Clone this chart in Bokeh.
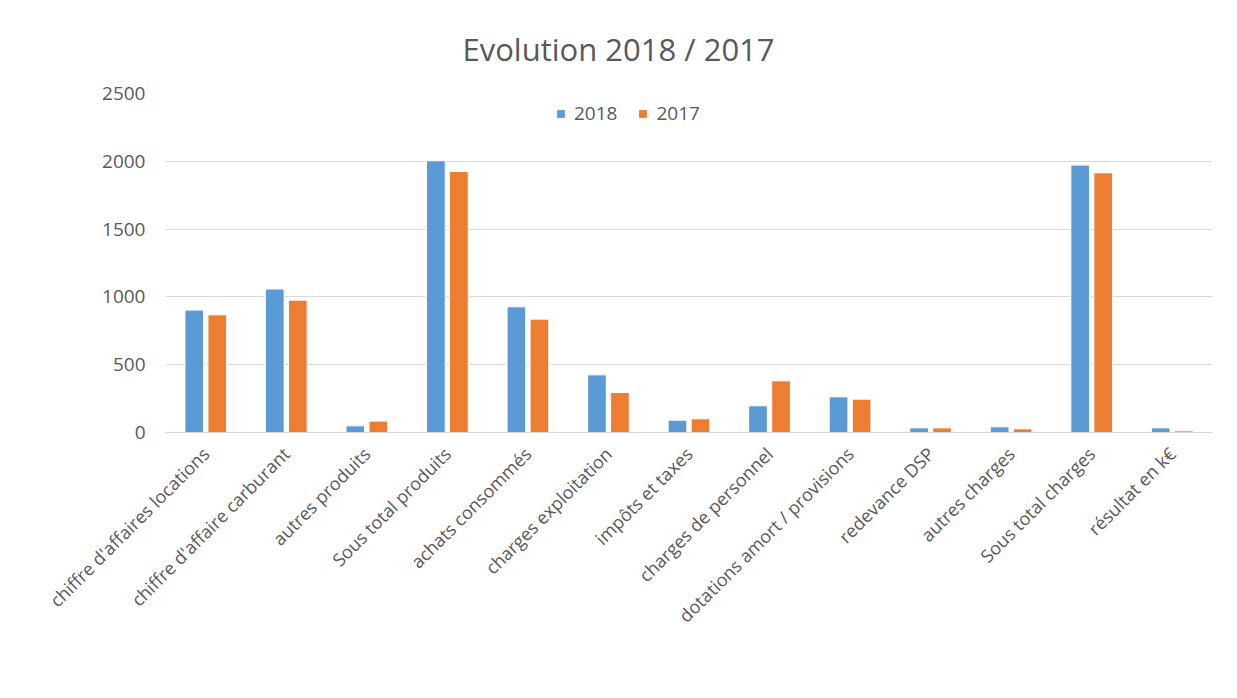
import math
from bokeh.plotting import figure
from bokeh.models import ColumnDataSource, FactorRange, Legend, LegendItem, Title, FixedTicker
from bokeh.transform import dodge
from bokeh.embed import file_html
from bokeh.resources import INLINE

categories = [
    "chiffre d'affaires locations",
    "chiffre d'affaire carburant",
    "autres produits",
    "Sous total produits",
    "achats consommés",
    "charges exploitation",
    "impôts et taxes",
    "charges de personnel",
    "dotations amort / provisions",
    "redevance DSP",
    "autres charges",
    "Sous total charges",
    "résultat en k€",
]
v2018 = [903, 1058, 49, 2004, 927, 425, 91, 197, 263, 34, 42, 1972, 34]
v2017 = [868, 976, 84, 1925, 836, 295, 101, 381, 246, 34, 27, 1915, 12]
series_names = ["2018", "2017"]
colors = ["#5B9BD5", "#ED7D31"]
y_ticks = [0, 500, 1000, 1500, 2000, 2500]

FONT = "Open Sans"
TXT = "#595959"

source = ColumnDataSource(dict(cat=categories, y2018=v2018, y2017=v2017))

p = figure(
    x_range=FactorRange(*categories),
    y_range=(0, 2500),
    frame_width=1047, frame_height=339,
    output_backend="svg", toolbar_location=None,
    min_border_left=165, min_border_right=20,
    min_border_top=93, min_border_bottom=0,
)
p.background_fill_color = "white"
p.border_fill_color = "white"
p.outline_line_color = None

r1 = p.vbar(x=dodge("cat", -0.143, range=p.x_range), top="y2018", width=0.232,
            source=source, fill_color=colors[0], line_color="white", line_width=1)
r2 = p.vbar(x=dodge("cat", 0.143, range=p.x_range), top="y2017", width=0.232,
            source=source, fill_color=colors[1], line_color="white", line_width=1)

p.xgrid.grid_line_color = None
p.ygrid.grid_line_color = "#D9D9D9"
p.ygrid.grid_line_width = 1
p.yaxis.ticker = FixedTicker(ticks=y_ticks)
p.yaxis.axis_line_color = None
p.yaxis.major_tick_line_color = None
p.yaxis.minor_tick_line_color = None
p.yaxis.major_tick_out = 0
p.yaxis.major_label_standoff = 20
p.yaxis.major_label_text_font = FONT
p.yaxis.major_label_text_font_size = "19px"
p.yaxis.major_label_text_color = TXT

p.xaxis.axis_line_color = "#D9D9D9"
p.xaxis.major_tick_line_color = None
p.xaxis.minor_tick_line_color = None
p.xaxis.major_tick_out = 0
p.xaxis.major_label_orientation = math.pi / 4
p.xaxis.major_label_standoff = 18
p.xaxis.major_label_text_font = FONT
p.xaxis.major_label_text_font_size = "18px"
p.xaxis.major_label_text_color = TXT

title = Title(text="Evolution 2018 / 2017", align="left", offset=297,
              text_font=FONT, text_font_size="31px", text_font_style="normal",
              text_color=TXT, standoff=48)
p.add_layout(title, "above")

legend = Legend(items=[LegendItem(label=series_names[0], renderers=[r1]),
                       LegendItem(label=series_names[1], renderers=[r2])],
                orientation="horizontal", location=(390, 306),
                label_text_font=FONT, label_text_font_size="19px",
                label_text_color=TXT, glyph_width=11, glyph_height=11,
                border_line_color=None, background_fill_color="white",
                background_fill_alpha=1,
                spacing=20, label_standoff=8, padding=0, margin=0)
p.add_layout(legend, "center")

open("out.html", "w").write(file_html(p, INLINE))
